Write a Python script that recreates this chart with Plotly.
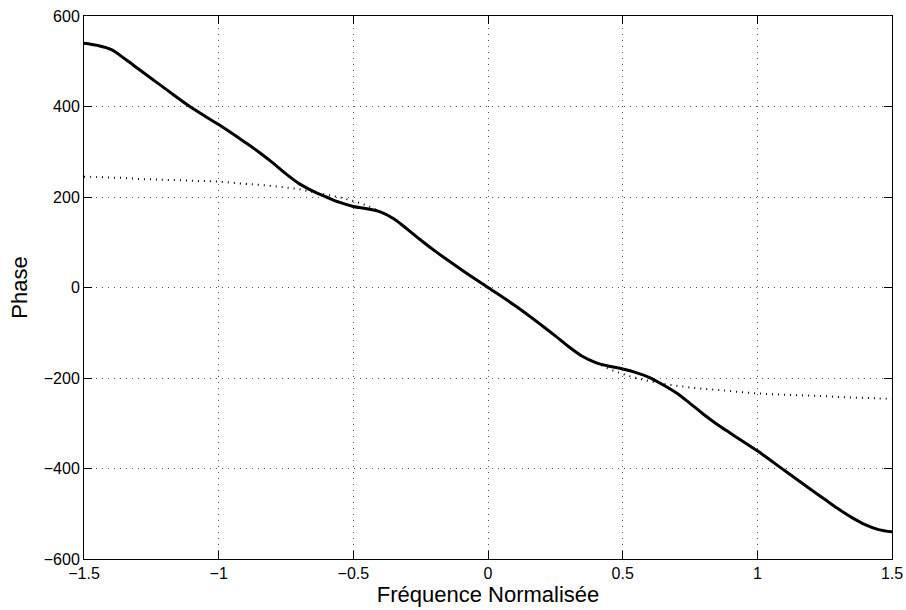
import plotly.graph_objects as go

# Normalised frequency samples
freq = [-1.5, -1.45, -1.4, -1.35, -1.3, -1.25, -1.2, -1.1, -1.0, -0.9, -0.85, -0.8, -0.75,
        -0.7, -0.65, -0.6, -0.55, -0.5, -0.45, -0.4, -0.35, -0.3, -0.25, -0.2, -0.1,
        0.0, 0.1, 0.2, 0.25, 0.3, 0.35, 0.4, 0.45, 0.5, 0.55, 0.6, 0.65, 0.7, 0.75,
        0.8, 0.85, 0.9, 1.0, 1.1, 1.2, 1.25, 1.3, 1.35, 1.4, 1.45, 1.5]

# Solid curve (phase)
phase_solid = [540, 535, 526, 506, 484, 462, 440, 397, 360, 320, 299, 276, 251,
               229, 213, 200, 188, 179, 174, 167, 152, 129, 105, 82, 40,
               0, -40, -84, -107, -131, -152, -166, -174, -180, -188, -199, -215, -233, -256,
               -280, -302, -322, -361, -404, -447, -468, -489, -508, -524, -535, -540]

# Dotted curve (phase)
phase_dotted = [245, 244, 243, 242, 240, 239, 238, 236, 234, 229, 227, 224, 221,
                217, 211, 205, 199, 191, 181, 167, 152, 129, 105, 82, 40,
                0, -40, -84, -107, -131, -152, -166, -180, -191, -200, -207, -213, -217, -221,
                -224, -226, -229, -234, -237, -239, -240, -242, -243, -244, -245, -246]

x_ticks = [-1.5, -1, -0.5, 0, 0.5, 1, 1.5]
x_labels = ["−1.5", "−1", "−0.5", "0", "0.5", "1", "1.5"]
y_ticks = [-600, -400, -200, 0, 200, 400, 600]
y_labels = ["−600", "−400", "−200", "0", "200", "400", "600"]

FONT = "Liberation Sans, Arial, Helvetica, sans-serif"

fig = go.Figure()
fig.add_trace(go.Scatter(x=freq, y=phase_dotted, mode="lines",
                         line=dict(color="black", width=2, dash="1px,5px", shape="spline", smoothing=1),
                         showlegend=False, hoverinfo="skip"))
fig.add_trace(go.Scatter(x=freq, y=phase_solid, mode="lines",
                         line=dict(color="black", width=3, shape="spline", smoothing=1),
                         showlegend=False))

axis_common = dict(
    showline=True, linecolor="black", linewidth=1, mirror="ticks",
    ticks="inside", ticklen=8, tickcolor="black", tickwidth=1,
    showgrid=True, gridcolor="#555", gridwidth=1, griddash="1px,5px",
    zeroline=False, automargin=False, ticklabeloverflow="allow",
    tickfont=dict(family=FONT, size=16, color="black"),
)

fig.update_xaxes(range=[-1.5, 1.5], tickvals=x_ticks, ticktext=x_labels,
                 title=dict(text="Fréquence Normalisée", standoff=2,
                            font=dict(family=FONT, size=22, color="black")),
                 **axis_common)
fig.update_yaxes(range=[-600, 600], tickvals=y_ticks, ticktext=y_labels,
                 title=dict(text="Phase", standoff=10,
                            font=dict(family=FONT, size=22, color="black")),
                 **axis_common)

fig.update_layout(
    width=906, height=610,
    margin=dict(l=84, r=14, t=16, b=51),
    paper_bgcolor="white", plot_bgcolor="white",
    showlegend=False,
)

fig.write_html("out.html", config={"displayModeBar": False},
               post_script="document.body.style.margin='0';document.body.style.overflow='hidden';")
